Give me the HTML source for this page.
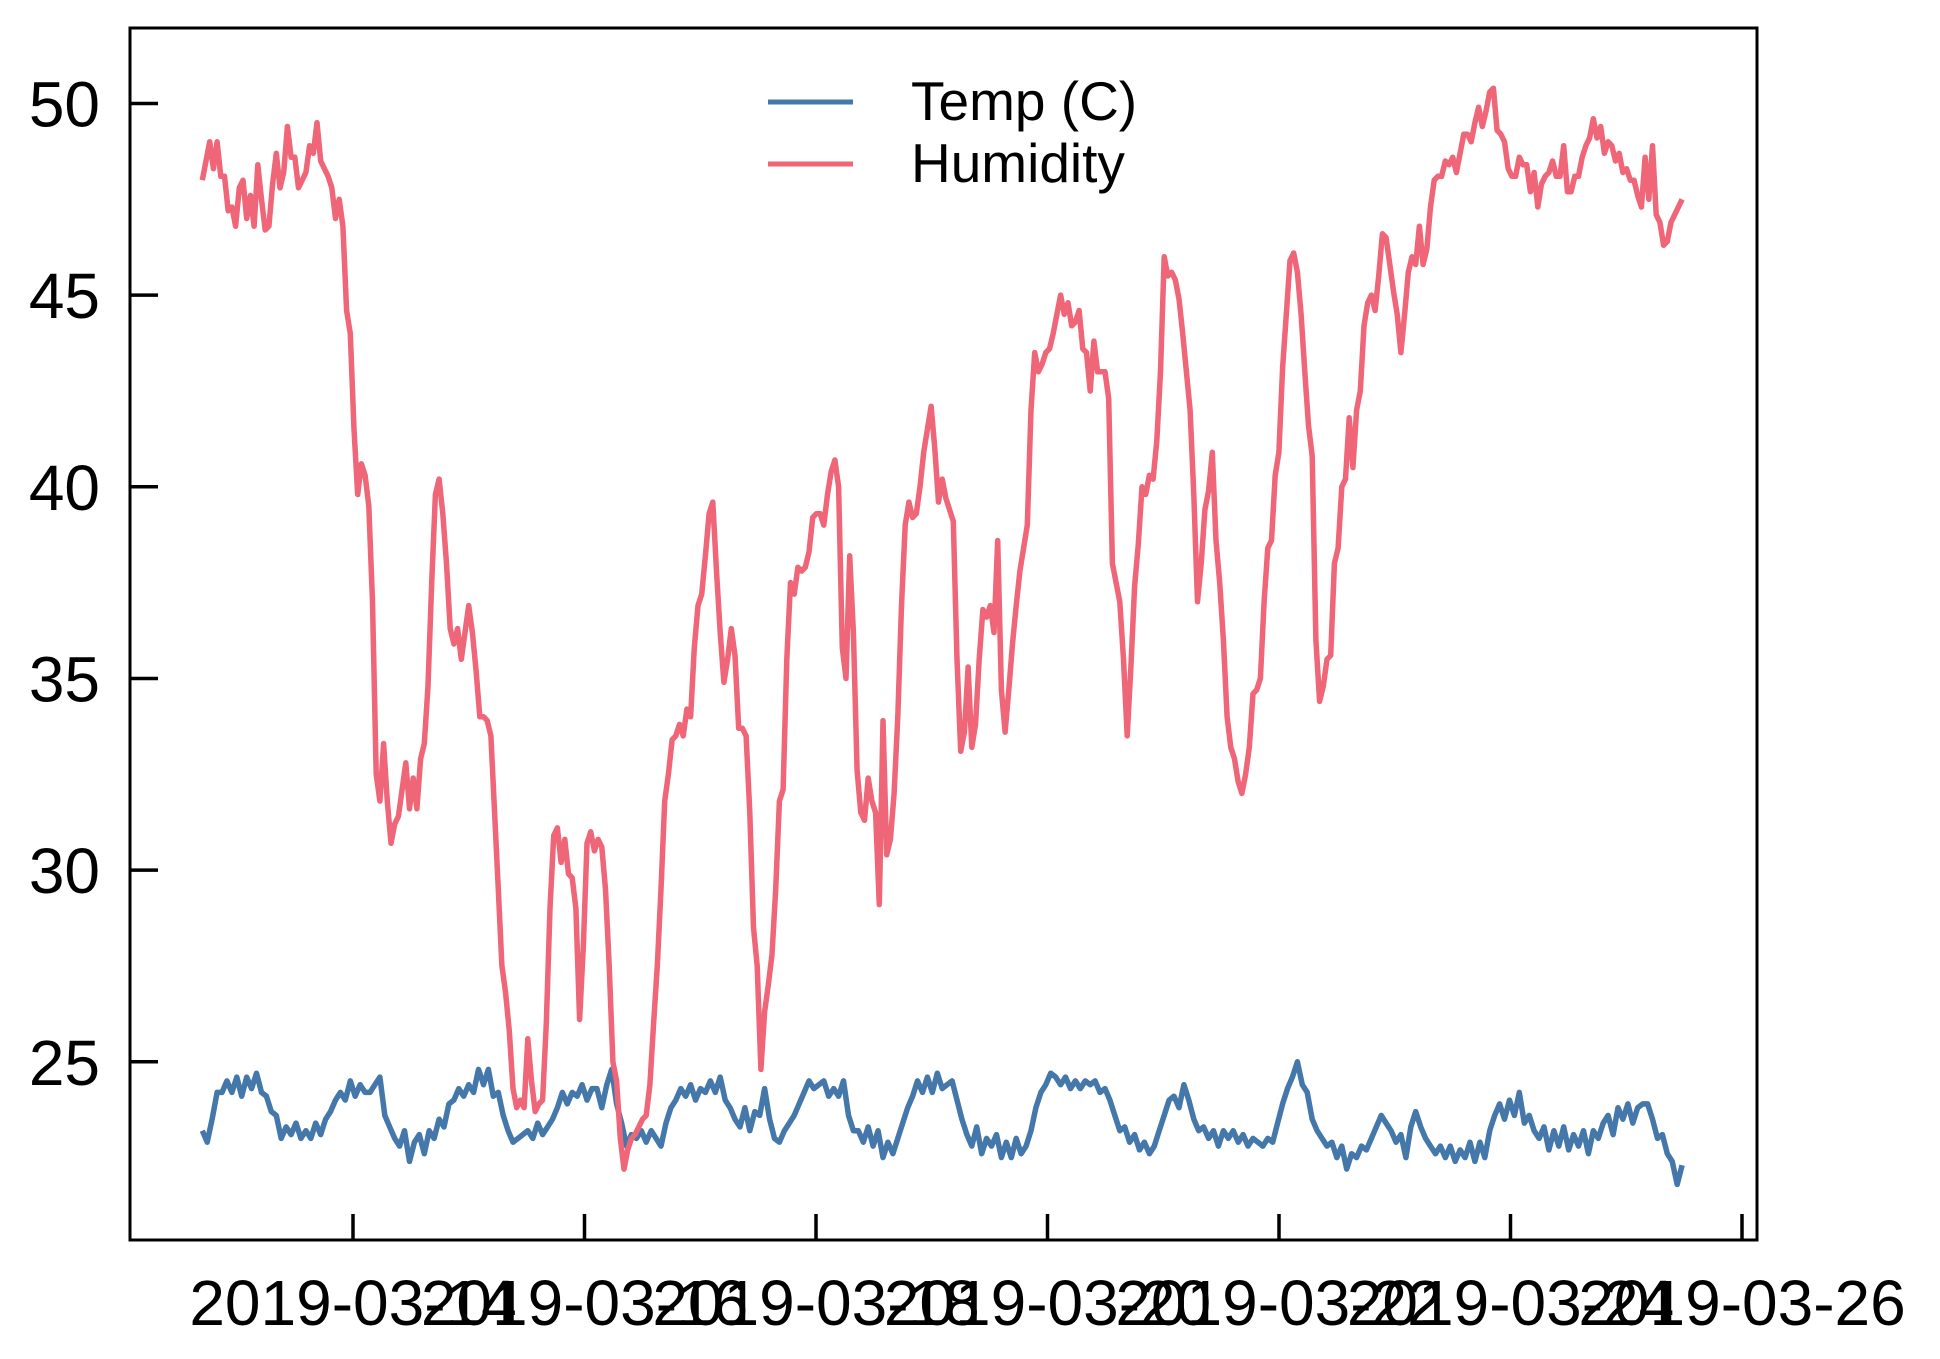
<!DOCTYPE html>
<html><head><meta charset="utf-8"><style>
html,body{margin:0;padding:0;background:#fff;}
svg{display:block;font-family:"Liberation Sans",Arial,sans-serif;}
</style></head><body>
<svg id="chart" width="1940" height="1359" viewBox="0 0 1940 1359" xmlns="http://www.w3.org/2000/svg">
<g id="plot"></g>
<g id="axes"></g>
<g id="legend">
  <line x1="768" y1="102" x2="853" y2="102" stroke="#4477AA" stroke-width="5"/>
  <text x="911" y="120" font-size="55">Temp (C)</text>
  <line x1="768" y1="164" x2="853" y2="164" stroke="#EE6677" stroke-width="5"/>
  <text x="911" y="182" font-size="55">Humidity</text>
</g>
</svg>
<script>
const seriesStart = Date.UTC(2019,2,12,16,45);
const seriesEnd = Date.UTC(2019,2,25,11,35);
const xTickLabels = ["2019-03-14","2019-03-16","2019-03-18","2019-03-20","2019-03-22","2019-03-24","2019-03-26"];
const yTickValues = [25,30,35,40,45,50];
const humidity = [48.0,48.5,49.0,48.3,49.0,48.1,48.1,47.2,47.3,46.8,47.8,48.0,47.0,47.6,46.8,48.4,47.5,46.7,46.8,47.9,48.7,47.8,48.2,49.4,48.6,48.6,47.8,48.0,48.2,48.9,48.7,49.5,48.5,48.3,48.1,47.8,47.0,47.5,46.8,44.6,44.0,41.5,39.8,40.6,40.3,39.5,37.0,32.5,31.8,33.3,31.8,30.7,31.2,31.4,32.1,32.8,31.6,32.4,31.6,32.9,33.3,34.8,37.5,39.8,40.2,39.3,38.0,36.3,35.9,36.3,35.5,36.2,36.9,36.2,35.2,34.0,34.0,33.9,33.5,31.5,29.5,27.5,26.8,25.8,24.3,23.8,24.0,23.8,25.6,24.5,23.7,23.9,24.0,26.0,29.0,30.9,31.1,30.2,30.8,29.9,29.8,29.0,26.1,28.0,30.7,31.0,30.5,30.8,30.6,29.5,27.5,25.0,24.5,23.0,22.2,22.7,23.0,23.1,23.3,23.5,23.6,24.4,26.0,27.5,29.5,31.8,32.5,33.4,33.5,33.8,33.5,34.2,34.0,35.8,36.9,37.2,38.2,39.3,39.6,37.8,36.2,34.9,35.5,36.3,35.6,33.7,33.7,33.5,31.5,28.5,27.5,24.8,26.3,27.0,27.8,29.5,31.8,32.1,35.5,37.5,37.2,37.9,37.8,37.9,38.3,39.2,39.3,39.3,39.0,39.8,40.4,40.7,40.0,35.8,35.0,38.2,36.2,32.6,31.5,31.3,32.4,31.8,31.5,29.1,33.9,30.4,30.8,32.0,34.0,36.9,39.0,39.6,39.2,39.3,40.0,40.9,41.5,42.1,41.0,39.6,40.2,39.7,39.4,39.1,35.5,33.1,33.6,35.3,33.2,33.8,35.5,36.8,36.6,36.9,36.2,38.6,34.7,33.6,34.7,35.9,36.9,37.8,38.4,39.0,42.0,43.5,43.0,43.2,43.5,43.6,44.0,44.5,45.0,44.5,44.8,44.2,44.3,44.6,43.6,43.5,42.5,43.8,43.0,43.0,43.0,42.3,38.0,37.5,37.0,35.5,33.5,35.3,37.4,38.5,40.0,39.8,40.3,40.2,41.2,43.0,46.0,45.5,45.6,45.4,44.9,44.0,43.0,42.0,39.8,37.0,38.0,39.4,39.9,40.9,38.6,37.5,36.0,34.0,33.2,32.9,32.3,32.0,32.5,33.2,34.6,34.7,35.0,37.0,38.4,38.6,40.3,40.9,43.1,44.5,45.9,46.1,45.6,44.5,43.0,41.6,40.8,36.0,34.4,34.8,35.5,35.6,38.0,38.4,40.0,40.2,41.8,40.5,42.0,42.5,44.2,44.8,45.0,44.6,45.5,46.6,46.5,45.8,45.1,44.5,43.5,44.5,45.6,46.0,45.8,46.8,45.8,46.2,47.3,48.0,48.1,48.1,48.5,48.4,48.6,48.2,48.7,49.2,49.2,49.0,49.5,49.9,49.4,49.8,50.3,50.4,49.3,49.2,49.0,48.3,48.1,48.1,48.6,48.4,48.4,47.7,48.2,47.3,47.9,48.1,48.2,48.5,48.1,48.1,48.9,47.7,47.7,48.1,48.1,48.6,48.9,49.1,49.6,49.1,49.4,48.7,49.0,48.9,48.5,48.7,48.2,48.3,48.0,48.0,47.6,47.3,48.6,47.5,48.9,47.1,46.9,46.3,46.4,46.9,47.1,47.3,47.5];
const temperature = [23.2,22.9,23.5,24.2,24.2,24.5,24.2,24.6,24.1,24.6,24.3,24.7,24.2,24.1,23.7,23.6,23.0,23.3,23.1,23.4,23.0,23.2,23.0,23.4,23.1,23.5,23.7,24.0,24.2,24.0,24.5,24.1,24.4,24.2,24.2,24.4,24.6,23.6,23.3,23.0,22.8,23.2,22.4,22.9,23.1,22.6,23.2,23.0,23.5,23.3,23.9,24.0,24.3,24.1,24.4,24.2,24.8,24.4,24.8,24.1,24.2,23.6,23.2,22.9,23.0,23.1,23.2,23.0,23.4,23.1,23.3,23.5,23.8,24.2,23.9,24.2,24.1,24.4,24.0,24.3,24.3,23.8,24.4,24.8,23.9,23.4,22.8,23.1,23.0,23.2,22.9,23.2,23.0,22.8,23.4,23.8,24.0,24.3,24.1,24.4,24.0,24.3,24.2,24.5,24.2,24.6,24.0,23.8,23.5,23.3,23.8,23.2,23.7,23.6,24.3,23.5,23.0,22.9,23.2,23.4,23.6,23.9,24.2,24.5,24.3,24.4,24.5,24.1,24.3,24.1,24.5,23.6,23.2,23.2,22.9,23.3,22.8,23.2,22.5,22.9,22.6,23.0,23.4,23.8,24.1,24.5,24.2,24.6,24.2,24.7,24.3,24.4,24.5,24.0,23.5,23.1,22.8,23.3,22.6,23.0,22.8,23.1,22.5,22.9,22.5,23.0,22.6,22.8,23.2,23.8,24.2,24.4,24.7,24.6,24.4,24.6,24.3,24.5,24.3,24.5,24.4,24.5,24.2,24.3,24.0,23.6,23.2,23.3,22.9,23.1,22.7,22.9,22.6,22.8,23.2,23.6,24.0,24.1,23.8,24.4,24.0,23.5,23.2,23.3,23.0,23.2,22.8,23.2,23.0,23.2,22.9,23.1,22.8,23.0,22.9,22.8,23.0,22.9,23.4,23.9,24.3,24.6,25.0,24.4,24.2,23.5,23.2,23.0,22.8,22.9,22.5,22.8,22.2,22.6,22.5,22.8,22.7,23.0,23.3,23.6,23.4,23.2,22.9,23.1,22.5,23.3,23.7,23.3,23.0,22.8,22.6,22.8,22.5,22.8,22.4,22.7,22.5,22.9,22.4,22.9,22.5,23.2,23.6,23.9,23.5,24.0,23.6,24.2,23.4,23.6,23.2,23.0,23.3,22.7,23.2,22.8,23.3,22.7,23.1,22.8,23.2,22.6,23.2,23.0,23.4,23.6,23.1,23.8,23.5,23.9,23.4,23.8,23.9,23.9,23.5,23.0,23.1,22.6,22.4,21.8,22.3];

const NS = "http://www.w3.org/2000/svg";
const AX = {left:130, right:1757, top:28, bottom:1240};
const DAY = 86400000;
const tick0 = Date.UTC(2019,2,14);
const pxPerDay = 115.75, tick0Px = 353;
function xScale(t){ return tick0Px + (t - tick0)/DAY*pxPerDay; }
const yPer = 38.33, y50 = 103.5;
function yScale(v){ return y50 + (50 - v)*yPer; }
function timeAt(i,n){ return seriesStart + (seriesEnd - seriesStart)*i/(n-1); }

const plot = document.getElementById('plot');
function drawSeries(vals, color, name){
  let d = "";
  vals.forEach((v,i)=>{ d += (i?"L":"M") + xScale(timeAt(i,vals.length)).toFixed(1) + "," + yScale(v).toFixed(1); });
  const p = document.createElementNS(NS,'path');
  p.setAttribute('d', d);
  p.setAttribute('fill','none');
  p.setAttribute('stroke',color);
  p.setAttribute('stroke-width','5.5');
  p.setAttribute('stroke-linejoin','round');
  
  
  plot.appendChild(p);
}
drawSeries(temperature, '#4477AA', 'temp-line');
drawSeries(humidity, '#EE6677', 'humidity-line');

const axes = document.getElementById('axes');
const frame = document.createElementNS(NS,'rect');
frame.setAttribute('x',AX.left); frame.setAttribute('y',AX.top);
frame.setAttribute('width',AX.right-AX.left); frame.setAttribute('height',AX.bottom-AX.top);
frame.setAttribute('fill','none'); frame.setAttribute('stroke','#000'); frame.setAttribute('stroke-width','3');


axes.appendChild(frame);

yTickValues.forEach(v=>{
  const y = yScale(v);
  const l = document.createElementNS(NS,'line');
  l.setAttribute('x1',AX.left); l.setAttribute('x2',AX.left+28);
  l.setAttribute('y1',y); l.setAttribute('y2',y);
  l.setAttribute('stroke','#000'); l.setAttribute('stroke-width','3.5');
  
  
  axes.appendChild(l);
  const t = document.createElementNS(NS,'text');
  t.setAttribute('x',100); t.setAttribute('y',y+23);
  t.setAttribute('text-anchor','end'); t.setAttribute('font-size','64');
  t.textContent = String(v);
  
  
  axes.appendChild(t);
});

xTickLabels.forEach(s=>{
  const p = s.split('-');
  const x = xScale(Date.UTC(+p[0], +p[1]-1, +p[2]));
  const l = document.createElementNS(NS,'line');
  l.setAttribute('x1',x); l.setAttribute('x2',x);
  l.setAttribute('y1',AX.bottom); l.setAttribute('y2',AX.bottom-26);
  l.setAttribute('stroke','#000'); l.setAttribute('stroke-width','3.5');
  
  
  axes.appendChild(l);
  const t = document.createElementNS(NS,'text');
  t.setAttribute('x',x); t.setAttribute('y',1325);
  t.setAttribute('text-anchor','middle'); t.setAttribute('font-size','64');
  t.textContent = s;
  
  
  axes.appendChild(t);
});
</script>
</body></html>
